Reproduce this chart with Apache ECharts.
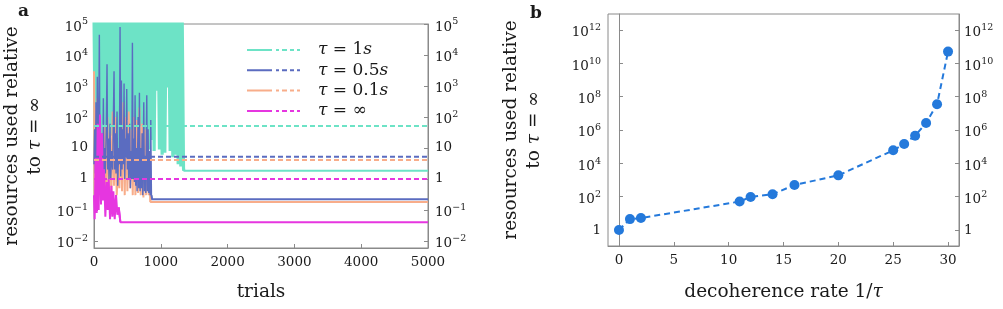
<!DOCTYPE html>
<html>
<head>
<meta charset="utf-8">
<script src="https://cdn.jsdelivr.net/npm/echarts@6/dist/echarts.min.js"></script>
<style>
html, body { margin: 0; padding: 0; background: #fff; }
#main { width: 1003px; height: 309px; }
</style>
</head>
<body>
<div id="main"></div>
<script>
// panel a: resources per trial, one trace per decoherence time
const tauNames = ['1s', '0.5s', '0.1s', '∞']
const tauColors = ['#6de3c6', '#5b6cc0', '#f8ad8a', '#e636e0']
// drawing order of the traces (0.5s drawn above 0.1s)
const traceZ = [2, 4, 3, 5]
const traceWidth = [3.2, 1.4, 2, 2]

const trace1s = [
  [0, 2e5], [20, 8], [40, 2e5], [60, 30], [80, 2e5], [100, 4], [120, 2e5], [140, 60],
  [160, 2e5], [180, 12], [200, 2e5], [220, 3], [240, 2e5], [260, 25], [280, 2e5], [300, 9],
  [320, 2e5], [340, 40], [360, 2e5], [380, 6], [400, 2e5], [420, 15], [440, 2e5], [460, 5],
  [480, 2e5], [500, 80], [520, 2e5], [540, 10], [560, 2e5], [580, 4], [600, 2e5], [620, 20],
  [640, 2e5], [660, 7], [680, 2e5], [700, 50], [720, 2e5], [740, 12], [760, 2e5], [780, 3],
  [800, 2e5], [820, 9], [840, 2e5], [860, 18], [880, 2e5], [900, 8], [920, 2e5], [940, 700],
  [960, 2e5], [980, 9], [1000, 2e5], [1020, 6], [1040, 2e5], [1060, 7], [1080, 2e5], [1100, 900],
  [1120, 2e5], [1140, 8], [1160, 2e5], [1180, 5], [1200, 2e5], [1220, 6], [1240, 2e5], [1260, 3],
  [1280, 2e5], [1300, 2.5], [1320, 2e5], [1340, 2.2], [1345, 1.85], [5000, 1.85]
]
const trace05s = [
  [0, 3], [10, 40], [20, 1.5], [30, 300], [40, 2], [50, 2000], [60, 1.5], [70, 20],
  [80, 4.5e4], [90, 3], [100, 15], [110, 1], [120, 30], [130, 0.8], [140, 400], [150, 2],
  [160, 10], [170, 1.5], [185, 60], [195, 5000], [205, 2], [215, 20], [225, 1], [240, 60],
  [250, 1], [265, 8], [280, 2], [290, 100], [300, 3000], [310, 2], [320, 30], [330, 1.5],
  [345, 150], [355, 0.6], [370, 10], [380, 3], [390, 8e4], [400, 1.2], [410, 1500], [420, 2],
  [430, 40], [440, 3], [450, 1200], [460, 1], [470, 20], [480, 5], [490, 800], [500, 2],
  [510, 30], [520, 1], [535, 60], [545, 0.5], [555, 8], [565, 1], [575, 2.5e4], [585, 1],
  [595, 20], [605, 0.8], [615, 500], [625, 0.6], [635, 10], [645, 0.4], [660, 100], [670, 0.5],
  [680, 600], [690, 0.4], [700, 10], [710, 0.5], [720, 30], [730, 0.3], [745, 300], [755, 0.4],
  [765, 5], [775, 0.35], [790, 500], [800, 0.4], [810, 40], [820, 0.35], [830, 8], [840, 0.3],
  [850, 80], [860, 0.3], [870, 0.22], [5000, 0.22]
]
const trace01s = [
  [0, 3000], [10, 0.3], [20, 200], [35, 0.15], [50, 400], [65, 0.5], [80, 25], [100, 0.2],
  [120, 20], [140, 0.3], [160, 50], [180, 0.25], [200, 100], [220, 0.5], [240, 30], [260, 0.3],
  [280, 150], [300, 0.6], [320, 100], [340, 0.3], [360, 2], [380, 0.5], [400, 150], [420, 0.4],
  [440, 300], [460, 0.3], [480, 100], [500, 0.4], [520, 150], [540, 0.5], [560, 40], [580, 0.3],
  [600, 100], [620, 0.3], [640, 80], [660, 0.35], [680, 200], [700, 0.3], [720, 60], [740, 0.25],
  [760, 40], [780, 0.3], [800, 20], [820, 0.3], [835, 5], [845, 0.18], [5000, 0.18]
]
const traceInf = [
  [0, 0.3], [10, 0.05], [25, 5], [40, 0.08], [55, 60], [70, 0.1], [90, 120], [105, 0.15],
  [120, 30], [135, 0.2], [150, 2], [170, 0.06], [190, 0.8], [205, 0.1], [220, 1], [240, 0.05],
  [260, 0.6], [275, 0.06], [290, 0.4], [310, 0.05], [330, 0.3], [350, 0.07], [370, 0.12],
  [395, 0.04], [5000, 0.04]
]
const meanLevels = [51, 5.2, 4.1, 1.0]
const trialRange = [0, 5000]

// panel b
const decoRate = [0, 1, 2, 11, 12, 14, 16, 20, 25, 26, 27, 28, 29, 30]
const resourceRatio = [1, 4.5, 5.2, 51, 96, 140, 500, 1900, 6e4, 1.45e5, 4.5e5, 2.6e6, 3.5e7, 5e10]

// tick labels
const xTicksA = [0, 1000, 2000, 3000, 4000, 5000]
const yTicksA = [1e-2, 1e-1, 1, 10, 1e2, 1e3, 1e4, 1e5]
const yTicksB = [1, 1e2, 1e4, 1e6, 1e8, 1e10, 1e12]
const xTicksB = [0, 5, 10, 15, 20, 25, 30]

const serif = 'DejaVu Serif'
const ink = '#1a1a1a'
const frame = '#8a8a8a'

function powLabel (v) {
    let e = Math.round(Math.log10(v))
    if (e === 0) return '1'
    if (e === 1) return '10'
    return '{b|10}{s|' + String(e).replace('-', '\u2212') + '}'
}
const powRich = {
    b: { fontFamily: serif, fontSize: 13.5, color: ink, lineHeight: 14, padding: [6, 0, 0, 0] },
    s: { fontFamily: serif, fontSize: 9.5, color: ink, lineHeight: 14, verticalAlign: 'top' }
}

function logAxis (grid, pos, min, max, ticks, margin) {
    return {
        gridIndex: grid,
        type: 'log',
        logBase: 10,
        position: pos,
        min: min,
        max: max,
        axisLine: { show: true, lineStyle: { color: frame, width: 1 } },
        axisTick: { show: true, inside: true, length: 4, lineStyle: { color: frame }, customValues: ticks },
        axisLabel: {
            customValues: ticks,
            margin: margin,
            formatter: powLabel,
            fontFamily: serif,
            fontSize: 13.5,
            color: ink,
            rich: powRich
        },
        splitLine: { show: false },
        minorTick: { show: false }
    }
}

const titleStyle = {
    fontFamily: serif, fontSize: 18.5, color: ink, lineHeight: 23,
    rich: { i: { fontFamily: serif, fontStyle: 'italic', fontSize: 18.5, color: ink } }
}
let yLeftA = logAxis(0, 'left', 0.0059, 1e5, yTicksA, 6)
yLeftA.name = 'resources used relative\nto {i|τ} = ∞'
yLeftA.nameLocation = 'middle'
yLeftA.nameRotate = 90
yLeftA.nameGap = 47
yLeftA.nameTextStyle = titleStyle
let yLeftB = logAxis(1, 'left', 0.11, 9e12, yTicksB, 7)
yLeftB.name = yLeftA.name
yLeftB.nameLocation = 'middle'
yLeftB.nameRotate = 90
yLeftB.nameGap = 62
yLeftB.nameTextStyle = titleStyle

const iconPath = 'path://M0,0H25V2H0Z M29,0H32V2H29Z M35,0H40V2H35Z M43,0H47V2H43Z M50,0H53V2H50Z'

function flatStart (tr) {
    // index where the trace settles on its final level
    return tr.length - 2
}

let seriesList = []
let traces = [trace1s, trace05s, trace01s, traceInf]
traces.forEach(function (tr, i) {
    let k = flatStart(tr)
    seriesList.push({
        name: tauNames[i] + ' trace',
        type: 'line',
        xAxisIndex: 0,
        yAxisIndex: 0,
        data: tr.slice(0, k + 1),
        showSymbol: false,
        color: tauColors[i],
        lineStyle: { width: traceWidth[i], color: tauColors[i], join: 'bevel' },
        silent: true,
        z: traceZ[i]
    })
    seriesList.push({
        name: tauNames[i] + ' final',
        type: 'line',
        xAxisIndex: 0,
        yAxisIndex: 0,
        data: tr.slice(k - 1),
        showSymbol: false,
        color: tauColors[i],
        lineStyle: { width: 2, color: tauColors[i] },
        silent: true,
        z: traceZ[i]
    })
})
meanLevels.forEach(function (m, i) {
    seriesList.push({
        name: tauNames[i],
        type: 'line',
        xAxisIndex: 0,
        yAxisIndex: 0,
        data: [[trialRange[0], m], [trialRange[1], m]],
        showSymbol: false,
        color: tauColors[i],
        lineStyle: { width: 2, type: [5, 3], color: tauColors[i] },
        silent: true,
        z: 10
    })
})
seriesList.push({
    name: 'ratio',
    type: 'line',
    xAxisIndex: 1,
    yAxisIndex: 2,
    data: decoRate.map(function (r, i) { return [r, resourceRatio[i]] }),
    symbol: 'circle',
    symbolSize: 10,
    color: '#2479db',
    itemStyle: { color: '#2479db' },
    lineStyle: { width: 2, type: [6, 4], color: '#2479db' },
    silent: true,
    z: 5
})

let option = {
    animation: false,
    backgroundColor: '#fff',
    title: [
        { text: 'a', left: 18, top: 3, padding: 0, textStyle: { fontFamily: serif, fontWeight: 'bold', fontSize: 17, color: ink } },
        { text: 'b', left: 530, top: 5, padding: 0, textStyle: { fontFamily: serif, fontWeight: 'bold', fontSize: 17, color: ink } }
    ],
    grid: [
        { left: 93, right: 575, top: 24, bottom: 61, show: true, borderColor: frame, borderWidth: 1, containLabel: false },
        { left: 608, right: 44, top: 14, bottom: 62, show: true, borderColor: frame, borderWidth: 1, containLabel: false }
    ],
    legend: {
        orient: 'vertical',
        left: 242,
        top: 35,
        itemWidth: 53,
        itemHeight: 2,
        itemGap: 0.3,
        selectedMode: false,
        symbolKeepAspect: false,
        itemStyle: { borderWidth: 0 },
        data: tauNames.map(function (n) { return { name: n, icon: iconPath } }),
        formatter: function (n) {
            if (n === '∞') return '{i|τ} = ∞'
            return '{i|τ} = ' + n.slice(0, -1) + '{i|s}'
        },
        textStyle: {
            fontFamily: serif, fontSize: 17, color: ink, lineHeight: 20, padding: [0, 0, 0, 13],
            rich: { i: { fontFamily: serif, fontStyle: 'italic', fontSize: 17, color: ink } }
        }
    },
    xAxis: [
        {
            gridIndex: 0,
            type: 'value',
            min: 0,
            max: 5000,
            name: 'trials',
            nameLocation: 'middle',
            nameGap: 35,
            nameTextStyle: { fontFamily: serif, fontSize: 18.5, color: ink },
            axisLine: { show: true, lineStyle: { color: frame } },
            axisTick: { show: true, inside: true, length: 4, lineStyle: { color: frame }, customValues: xTicksA },
            axisLabel: {
                customValues: xTicksA, margin: 7, fontFamily: serif, fontSize: 13.5, color: ink,
                formatter: function (v) { return String(v) }
            },
            splitLine: { show: false }
        },
        {
            gridIndex: 1,
            type: 'value',
            min: -1,
            max: 31,
            name: 'decoherence rate 1/{i|τ}',
            nameLocation: 'middle',
            nameGap: 35,
            nameTextStyle: titleStyle,
            axisLine: { show: true, lineStyle: { color: frame } },
            axisTick: { show: true, inside: true, length: 4, lineStyle: { color: frame }, customValues: xTicksB },
            axisLabel: { customValues: xTicksB, margin: 7, fontFamily: serif, fontSize: 13.5, color: ink },
            splitLine: { show: false }
        }
    ],
    yAxis: [
        yLeftA,
        logAxis(0, 'right', 0.0059, 1e5, yTicksA, 7),
        yLeftB,
        logAxis(1, 'right', 0.11, 9e12, yTicksB, 5)
    ],
    series: seriesList
}

let myChart = echarts.init(document.getElementById('main'))
myChart.setOption(option)
</script>
</body>
</html>
